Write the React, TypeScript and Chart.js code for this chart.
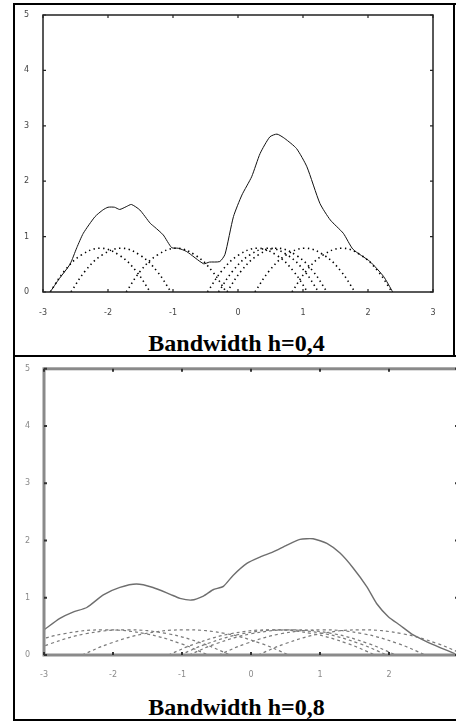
import React, { useEffect, useRef } from "react";
import { Chart, registerables } from "chart.js";

Chart.register(...registerables);

// ---------- Data ----------
const TITLE_TOP = "Bandwidth h=0,4";
const TITLE_BOTTOM = "Bandwidth h=0,8";

const X_MIN = -3;
const X_MAX = 3;
const Y_MIN = 0;
const Y_MAX = 5;

// Density estimate, h = 0.4 (solid line)
const EST_H04_X = [-2.89, -2.75, -2.585, -2.48, -2.38, -2.2, -2.08, -2.0, -1.9, -1.82, -1.72, -1.64, -1.51, -1.35, -1.28, -1.15, -1.02, -0.92, -0.79, -0.53, -0.44, -0.28, -0.2, -0.07, 0.06, 0.21, 0.34, 0.49, 0.6, 0.72, 0.9, 1.06, 1.26, 1.42, 1.62, 1.77, 2.03, 2.24, 2.38];
const EST_H04_Y = [0, 0.24, 0.5, 0.8, 1.06, 1.36, 1.48, 1.53, 1.53, 1.49, 1.54, 1.58, 1.48, 1.24, 1.17, 1.03, 0.8, 0.79, 0.73, 0.51, 0.54, 0.55, 0.68, 1.36, 1.75, 2.08, 2.5, 2.8, 2.85, 2.77, 2.59, 2.26, 1.6, 1.3, 1.06, 0.77, 0.55, 0.28, 0];

// Individual kernels, h = 0.4 (dotted arcs)
const KERNELS_H04_X = [
  [-2.89, -2.67, -2.42, -2.12, -1.82, -1.57, -1.35],
  [-2.57, -2.35, -2.1, -1.8, -1.5, -1.25, -1.03],
  [-1.72, -1.5, -1.25, -0.95, -0.65, -0.4, -0.18],
  [-0.47, -0.25, 0.0, 0.3, 0.6, 0.85, 1.07],
  [-0.3, -0.08, 0.17, 0.47, 0.77, 1.02, 1.24],
  [-0.17, 0.05, 0.3, 0.6, 0.9, 1.15, 1.37],
  [0.26, 0.48, 0.73, 1.03, 1.33, 1.58, 1.8],
  [0.83, 1.05, 1.3, 1.6, 1.9, 2.15, 2.37],
];
const KERNEL_H04_Y = [0, 0.38, 0.66, 0.79, 0.66, 0.38, 0];

// Density estimate, h = 0.8 (solid line)
const EST_H08_X = [-3.0, -2.77, -2.58, -2.38, -2.14, -1.9, -1.66, -1.42, -1.17, -1.03, -0.86, -0.69, -0.55, -0.4, -0.26, -0.06, 0.13, 0.32, 0.52, 0.71, 0.9, 1.1, 1.29, 1.48, 1.68, 1.82, 1.99, 2.16, 2.35, 2.55, 2.74, 2.96];
const EST_H08_Y = [0.44, 0.64, 0.75, 0.83, 1.05, 1.18, 1.24, 1.18, 1.06, 0.99, 0.96, 1.03, 1.14, 1.2, 1.39, 1.6, 1.71, 1.8, 1.92, 2.02, 2.03, 1.95, 1.78, 1.52, 1.19, 0.9, 0.67, 0.52, 0.35, 0.23, 0.13, 0.02];

// Individual kernels, h = 0.8 (dashed arcs)
const KERNELS_H08_X = [
  [-3.62, -3.22, -2.72, -2.12, -1.52, -1.02, -0.62],
  [-3.3, -2.9, -2.4, -1.8, -1.2, -0.7, -0.3],
  [-2.45, -2.05, -1.55, -0.95, -0.35, 0.15, 0.55],
  [-1.2, -0.8, -0.3, 0.3, 0.9, 1.4, 1.8],
  [-1.03, -0.63, -0.13, 0.47, 1.07, 1.57, 1.97],
  [-0.9, -0.5, 0.0, 0.6, 1.2, 1.7, 2.1],
  [-0.47, -0.07, 0.43, 1.03, 1.63, 2.13, 2.53],
  [0.1, 0.5, 1.0, 1.6, 2.2, 2.7, 3.1],
];
const KERNEL_H08_Y = [0, 0.2, 0.37, 0.44, 0.37, 0.2, 0];

// ---------- helpers ----------
const toPoints = (xs: number[], ys: number[]) => xs.map((x, i) => ({ x, y: ys[i] }));

function framePlugin(opts: { color: string; width: number; tickColor: string; tickWidth: number; tickLen: number }) {
  return {
    id: "frameTicks",
    afterDatasetsDraw(chart: any) {
      const { ctx, chartArea: a, scales } = chart;
      ctx.save();
      ctx.strokeStyle = opts.color;
      ctx.lineWidth = opts.width;
      ctx.strokeRect(a.left, a.top, a.right - a.left, a.bottom - a.top);
      ctx.beginPath();
      ctx.strokeStyle = opts.tickColor;
      ctx.lineWidth = opts.tickWidth;
      scales.x.ticks.forEach((t: any) => {
        const p = scales.x.getPixelForValue(t.value);
        ctx.moveTo(p, a.bottom);
        ctx.lineTo(p, a.bottom - opts.tickLen);
        ctx.moveTo(p, a.top);
        ctx.lineTo(p, a.top + opts.tickLen);
      });
      scales.y.ticks.forEach((t: any) => {
        const p = scales.y.getPixelForValue(t.value);
        ctx.moveTo(a.left, p);
        ctx.lineTo(a.left + opts.tickLen, p);
        ctx.moveTo(a.right, p);
        ctx.lineTo(a.right - opts.tickLen, p);
      });
      ctx.stroke();
      ctx.restore();
    },
  };
}

function buildConfig(p: {
  estX: number[];
  estY: number[];
  kernX: number[][];
  kernY: number[];
  lineColor: string;
  lineWidth: number;
  kernColor: string;
  kernWidth: number;
  kernDash: number[];
  labelColor: string;
  padTop: number;
  padRight: number;
  yWidth: number;
  xHeight: number;
  xPad: number;
  yPad: number;
  frame: any;
}) {
  const datasets: any[] = p.kernX.map((xs) => ({
    data: toPoints(xs, p.kernY),
    borderColor: p.kernColor,
    borderWidth: p.kernWidth,
    borderDash: p.kernDash,
    tension: 0.4,
    pointRadius: 0,
    fill: false,
  }));
  datasets.push({
    data: toPoints(p.estX, p.estY),
    borderColor: p.lineColor,
    borderWidth: p.lineWidth,
    tension: 0.2,
    pointRadius: 0,
    fill: false,
  });
  const font = { family: "DejaVu Sans", size: 8 };
  return {
    type: "line" as const,
    data: { datasets },
    options: {
      animation: false as const,
      responsive: false,
      layout: { padding: { top: p.padTop, right: p.padRight, left: 0, bottom: 0 } },
      plugins: { legend: { display: false }, tooltip: { enabled: false }, title: { display: false } },
      scales: {
        x: {
          type: "linear" as const,
          min: X_MIN,
          max: X_MAX,
          ticks: { stepSize: 1, padding: p.xPad, font, color: p.labelColor, maxRotation: 0, autoSkip: false },
          grid: { display: false },
          border: { display: false },
          afterFit: (s: any) => {
            s.height = p.xHeight;
          },
        },
        y: {
          type: "linear" as const,
          min: Y_MIN,
          max: Y_MAX,
          ticks: { stepSize: 1, padding: p.yPad, font, color: p.labelColor },
          grid: { display: false },
          border: { display: false },
          afterFit: (s: any) => {
            s.width = p.yWidth;
          },
        },
      },
    },
    plugins: [p.frame],
  };
}

function ChartCanvas({ config, width, height, style }: { config: any; width: number; height: number; style: React.CSSProperties }) {
  const ref = useRef<HTMLCanvasElement | null>(null);
  useEffect(() => {
    if (!ref.current) return;
    const chart = new Chart(ref.current, config);
    return () => chart.destroy();
  }, [config]);
  return <canvas ref={ref} width={width} height={height} style={{ position: "absolute", display: "block", width, height, ...style }} />;
}

const topConfig = buildConfig({
  estX: EST_H04_X,
  estY: EST_H04_Y,
  kernX: KERNELS_H04_X,
  kernY: KERNEL_H04_Y,
  lineColor: "#111",
  lineWidth: 1,
  kernColor: "#000",
  kernWidth: 1.6,
  kernDash: [1.4, 3.4],
  labelColor: "#444",
  padTop: 15,
  padRight: 23,
  yWidth: 43,
  xHeight: 28,
  xPad: 8,
  yPad: 6,
  frame: framePlugin({ color: "#222", width: 1.5, tickColor: "#222", tickWidth: 1.2, tickLen: 3 }),
});

const bottomConfig = buildConfig({
  estX: EST_H08_X,
  estY: EST_H08_Y,
  kernX: KERNELS_H08_X,
  kernY: KERNEL_H08_Y,
  lineColor: "#6e6e6e",
  lineWidth: 1.4,
  kernColor: "#7a7a7a",
  kernWidth: 1.2,
  kernDash: [3, 3],
  labelColor: "#8a8a8a",
  padTop: 10,
  padRight: 22,
  yWidth: 44,
  xHeight: 33,
  xPad: 7,
  yPad: 6,
  frame: framePlugin({ color: "#8a8a8a", width: 3, tickColor: "#333", tickWidth: 2, tickLen: 3 }),
});

const line = (s: React.CSSProperties): React.CSSProperties => ({ position: "absolute", background: "#000", ...s });

const titleStyle = (top: number): React.CSSProperties => ({
  position: "absolute",
  left: 15,
  width: 443,
  top,
  textAlign: "center",
  fontFamily: "'Liberation Serif', 'Times New Roman', serif",
  fontWeight: "bold",
  fontSize: 24,
  lineHeight: "24px",
  color: "#000",
  whiteSpace: "nowrap",
});

export default function App() {
  return (
    <div style={{ position: "absolute", left: 0, top: 0, width: 456, height: 721, overflow: "hidden", background: "#fff" }}>
      <ChartCanvas config={topConfig} width={456} height={320} style={{ left: 0, top: 0 }} />
      <ChartCanvas config={bottomConfig} width={480} height={330} style={{ left: 0, top: 358, filter: "blur(0.6px)" }} />
      <div style={titleStyle(331)}>{TITLE_TOP}</div>
      <div style={titleStyle(695)}>{TITLE_BOTTOM}</div>
      <div style={line({ left: 13, top: 3, width: 2, height: 718 })} />
      <div style={line({ left: 13, top: 3, width: 443, height: 2 })} />
      <div style={line({ left: 453, top: 3, width: 2, height: 354 })} />
      <div style={line({ left: 13, top: 355, width: 443, height: 2 })} />
      <div style={line({ left: 13, top: 719, width: 443, height: 2 })} />
    </div>
  );
}
